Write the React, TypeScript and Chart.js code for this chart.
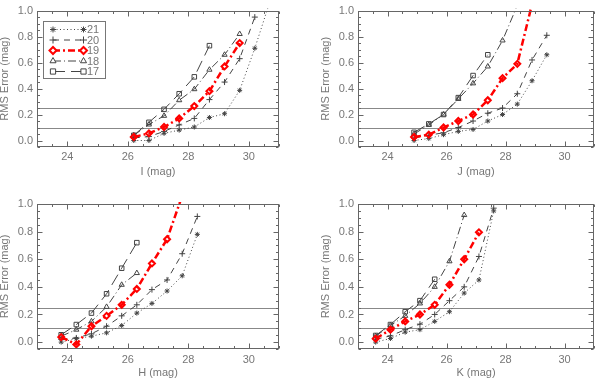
import React, { useEffect, useRef } from 'react';
import { Chart, registerables } from 'chart.js';
import { drawPoint } from 'chart.js/helpers';

Chart.register(...registerables);

// ---------- data ----------
const seriesNames = ['21', '20', '19', '18', '17'];
const refLevels = [0.1, 0.25];
const xTickValues = [24, 26, 28, 30];
const yTickValues = [0, 0.2, 0.4, 0.6, 0.8, 1.0];

const iMag = [26.2, 26.7, 27.2, 27.7, 28.2, 28.7, 29.2, 29.7, 30.2, 30.7];
const i21 = [0.0, 0.0, 0.055, 0.08, 0.104, 0.177, 0.206, 0.386, 0.71, 1.07];
const i20 = [0.02, 0.03, 0.07, 0.12, 0.17, 0.315, 0.45, 0.63, 0.95];
const i19 = [0.027, 0.055, 0.104, 0.17, 0.265, 0.38, 0.57, 0.75];
const i18 = [0.04, 0.123, 0.19, 0.31, 0.395, 0.545, 0.66, 0.82];
const i17 = [0.04, 0.14, 0.24, 0.36, 0.49, 0.73];

const jMag = [24.9, 25.4, 25.9, 26.4, 26.9, 27.4, 27.9, 28.4, 28.9, 29.4];
const j21 = [0.0, 0.015, 0.045, 0.07, 0.085, 0.15, 0.2, 0.28, 0.46, 0.66];
const j20 = [0.02, 0.04, 0.06, 0.1, 0.15, 0.21, 0.25, 0.36, 0.62, 0.81];
const j19 = [0.027, 0.045, 0.1, 0.15, 0.2, 0.31, 0.48, 0.59, 1.05];
const j18 = [0.05, 0.12, 0.2, 0.32, 0.44, 0.57, 0.77, 1.04];
const j17 = [0.063, 0.128, 0.2, 0.33, 0.5, 0.66];

const hMag = [23.8, 24.3, 24.8, 25.3, 25.8, 26.3, 26.8, 27.3, 27.8, 28.3];
const h21 = [0.0, 0.025, 0.043, 0.067, 0.12, 0.21, 0.28, 0.37, 0.48, 0.78];
const h20 = [0.02, 0.03, 0.06, 0.115, 0.19, 0.27, 0.38, 0.45, 0.64, 0.91];
const h19 = [0.036, -0.017, 0.115, 0.19, 0.27, 0.385, 0.57, 0.745, 1.06];
const h18 = [0.043, 0.09, 0.15, 0.255, 0.415, 0.5];
const h17 = [0.053, 0.127, 0.21, 0.35, 0.535, 0.72];

const kMag = [23.6, 24.1, 24.6, 25.1, 25.6, 26.1, 26.6, 27.1, 27.6];
const k21 = [0.0, 0.026, 0.072, 0.09, 0.15, 0.22, 0.355, 0.45, 0.95];
const k20 = [0.02, 0.045, 0.09, 0.13, 0.2, 0.3, 0.4, 0.62, 0.97];
const k19 = [0.025, 0.09, 0.15, 0.2, 0.27, 0.415, 0.6, 0.795];
const k18 = [0.043, 0.12, 0.19, 0.28, 0.4, 0.585, 0.92];
const k17 = [0.048, 0.127, 0.22, 0.3, 0.455];

// ---------- styles ----------
const FONT = "'Liberation Sans', Arial, sans-serif";
const TEXT = '#777';
const AXIS = '#666';

const styles = [
  { color: '#444', width: 1, dash: [1, 2.5], point: 'star', radius: 2.5, pw: 1, order: 1 },
  { color: '#444', width: 1, dash: [6, 5], point: 'cross', radius: 3, pw: 1, order: 1 },
  { color: '#ff0000', width: 2.5, dash: [7, 3, 2, 3], point: 'rectRot', radius: 3, pw: 2, order: 0 },
  { color: '#444', width: 1, dash: [8, 3, 1, 3], point: 'triangle', radius: 3, pw: 1, order: 1 },
  { color: '#444', width: 1, dash: [12, 6], point: 'rect', radius: 3.2, pw: 1, order: 1 },
];

type Area = { l: number; t: number; r: number; b: number };
type PanelCfg = {
  x: number; y: number; w: number; h: number; area: Area;
  xTitle: string; mags: number[]; series: number[][]; legend: boolean;
  xTitleCenter: number; tickPad: number;
};

const panels: PanelCfg[] = [
  { x: 0, y: 0, w: 300, h: 190, area: { l: 37, t: 3, r: 279, b: 147 }, xTitle: 'I (mag)', mags: iMag,
    series: [i21, i20, i19, i18, i17], legend: true, xTitleCenter: 172, tickPad: 3 },
  { x: 300, y: 0, w: 300, h: 190, area: { l: 58, t: 3, r: 299, b: 147 }, xTitle: 'J (mag)', mags: jMag,
    series: [j21, j20, j19, j18, j17], legend: false, xTitleCenter: 172, tickPad: 3 },
  { x: 0, y: 190, w: 300, h: 190, area: { l: 37, t: 14, r: 279, b: 159 }, xTitle: 'H (mag)', mags: hMag,
    series: [h21, h20, h19, h18, h17], legend: false, xTitleCenter: 183, tickPad: 4 },
  { x: 300, y: 190, w: 300, h: 190, area: { l: 58, t: 14, r: 299, b: 159 }, xTitle: 'K (mag)', mags: kMag,
    series: [k21, k20, k19, k18, k17], legend: false, xTitleCenter: 183, tickPad: 4 },
];

// ---------- plugins ----------
const framePlugin = {
  id: 'idlFrame',
  beforeDatasetsDraw(chart: any) {
    const { ctx, chartArea: a, scales } = chart;
    ctx.save();
    ctx.strokeStyle = '#888';
    ctx.lineWidth = 1;
    for (const v of refLevels) {
      const py = Math.round(scales.y.getPixelForValue(v)) + 0.5;
      ctx.beginPath();
      ctx.moveTo(a.left, py);
      ctx.lineTo(a.right, py);
      ctx.stroke();
    }
    ctx.restore();
  },
  afterDatasetsDraw(chart: any) {
    const { ctx, chartArea: a, scales } = chart;
    const L = Math.round(a.left) + 0.5, R = Math.round(a.right) - 0.5;
    const T = Math.round(a.top) + 0.5, B = Math.round(a.bottom) - 0.5;
    ctx.save();
    ctx.strokeStyle = AXIS;
    ctx.lineWidth = 1;
    ctx.strokeRect(L, T, R - L, B - T);
    ctx.beginPath();
    for (let k = 0; k <= 16; k++) {
      const v = 23 + k * 0.5;
      const len = v % 2 === 0 ? 5 : 2.5;
      const px = Math.round(scales.x.getPixelForValue(v)) + 0.5;
      ctx.moveTo(px, B); ctx.lineTo(px, B - len);
      ctx.moveTo(px, T); ctx.lineTo(px, T + len);
    }
    for (let k = -1; k <= 20; k++) {
      const v = k * 0.05;
      const len = k % 4 === 0 ? 5 : 2.5;
      const py = Math.round(scales.y.getPixelForValue(v)) + 0.5;
      ctx.moveTo(L, py); ctx.lineTo(L + len, py);
      ctx.moveTo(R, py); ctx.lineTo(R - len, py);
    }
    ctx.stroke();
    ctx.restore();
  },
  afterDraw(chart: any) {
    if (!chart.options.plugins.idlLegendOn) return;
    const { ctx, chartArea: a } = chart;
    const bx = Math.round(a.left + 6) + 0.5, by = Math.round(a.top + 10) + 0.5;
    const bw = 62, bh = 57;
    ctx.save();
    ctx.fillStyle = '#fff';
    ctx.fillRect(bx, by, bw, bh);
    ctx.strokeStyle = '#777';
    ctx.lineWidth = 1;
    ctx.strokeRect(bx, by, bw, bh);
    chart.data.datasets.forEach((ds: any, i: number) => {
      const y = by + 8 + i * 10.5;
      const x1 = bx + 9.5, x2 = bx + 40;
      ctx.save();
      ctx.strokeStyle = ds.borderColor;
      ctx.lineWidth = ds.borderWidth;
      ctx.setLineDash(ds.borderDash);
      ctx.beginPath();
      ctx.moveTo(x1, y);
      ctx.lineTo(x2, y);
      ctx.stroke();
      ctx.setLineDash([]);
      ctx.strokeStyle = ds.pointBorderColor;
      ctx.fillStyle = '#fff';
      ctx.lineWidth = ds.pointBorderWidth;
      const opts = { pointStyle: ds.pointStyle, radius: ds.pointRadius + 0.5, borderWidth: ds.pointBorderWidth, rotation: 0 };
      drawPoint(ctx, opts as any, x1, y);
      drawPoint(ctx, opts as any, x2, y);
      ctx.restore();
      ctx.fillStyle = TEXT;
      ctx.font = `11px ${FONT}`;
      ctx.textBaseline = 'middle';
      ctx.textAlign = 'left';
      ctx.fillText(ds.label, x2 + 3.5, y + 0.5);
    });
    ctx.restore();
  },
};

function Panel({ cfg }: { cfg: PanelCfg }) {
  const ref = useRef<HTMLCanvasElement>(null);
  useEffect(() => {
    const { area, w, h } = cfg;
    const font = { family: FONT, size: 11 };
    const datasets = cfg.series.map((vals, i) => {
      const st = styles[i];
      return {
        label: seriesNames[i],
        data: vals.map((v, j) => ({ x: cfg.mags[j], y: v })),
        showLine: true,
        borderColor: st.color,
        borderWidth: st.width,
        borderDash: st.dash,
        pointStyle: st.point,
        pointRadius: st.radius,
        pointBorderWidth: st.pw,
        pointBorderColor: st.color,
        pointBackgroundColor: 'rgba(0,0,0,0)',
        backgroundColor: 'rgba(0,0,0,0)',
        tension: 0,
        clip: 2,
        order: st.order,
      };
    });
    const chart = new Chart(ref.current as HTMLCanvasElement, {
      type: 'scatter',
      data: { datasets } as any,
      plugins: [framePlugin],
      options: {
        responsive: false,
        animation: false,
        devicePixelRatio: 1,
        events: [],
        layout: { padding: { top: area.t, right: w - area.r, bottom: 0, left: 0 } },
        plugins: { legend: { display: false }, tooltip: { enabled: false }, idlLegendOn: cfg.legend } as any,
        scales: {
          x: {
            type: 'linear', min: 23, max: 31,
            grid: { display: false, drawTicks: false },
            border: { display: false },
            afterBuildTicks: (s: any) => { s.ticks = xTickValues.map((v) => ({ value: v })); },
            afterFit: (s: any) => { s.height = h - area.b; },
            ticks: { padding: cfg.tickPad, color: TEXT, font, autoSkip: false, maxRotation: 0, callback: (v: any) => String(v) },
            title: { display: true, text: cfg.xTitle, color: TEXT, font, padding: { top: 0, bottom: h - cfg.xTitleCenter - 6.6 } },
          },
          y: {
            type: 'linear', min: -0.05, max: 1.0,
            grid: { display: false, drawTicks: false },
            border: { display: false },
            afterBuildTicks: (s: any) => { s.ticks = yTickValues.map((v) => ({ value: v })); },
            afterFit: (s: any) => { s.width = area.l; },
            ticks: { padding: 4, color: TEXT, font, autoSkip: false, callback: (v: any) => Number(v).toFixed(1) },
            title: { display: true, text: 'RMS Error (mag)', color: TEXT, font, padding: { top: area.l - 32.5 - 6.6, bottom: 0 } },
          },
        },
      } as any,
    });
    return () => chart.destroy();
  }, []);
  return (
    <canvas
      ref={ref}
      width={cfg.w}
      height={cfg.h}
      style={{ position: 'absolute', left: cfg.x, top: cfg.y, width: cfg.w, height: cfg.h }}
    />
  );
}

export default function App() {
  return (
    <div style={{ position: 'absolute', left: 0, top: 0, width: 600, height: 380, overflow: 'hidden', background: '#fff' }}>
      {panels.map((p, i) => (
        <Panel key={i} cfg={p} />
      ))}
    </div>
  );
}
